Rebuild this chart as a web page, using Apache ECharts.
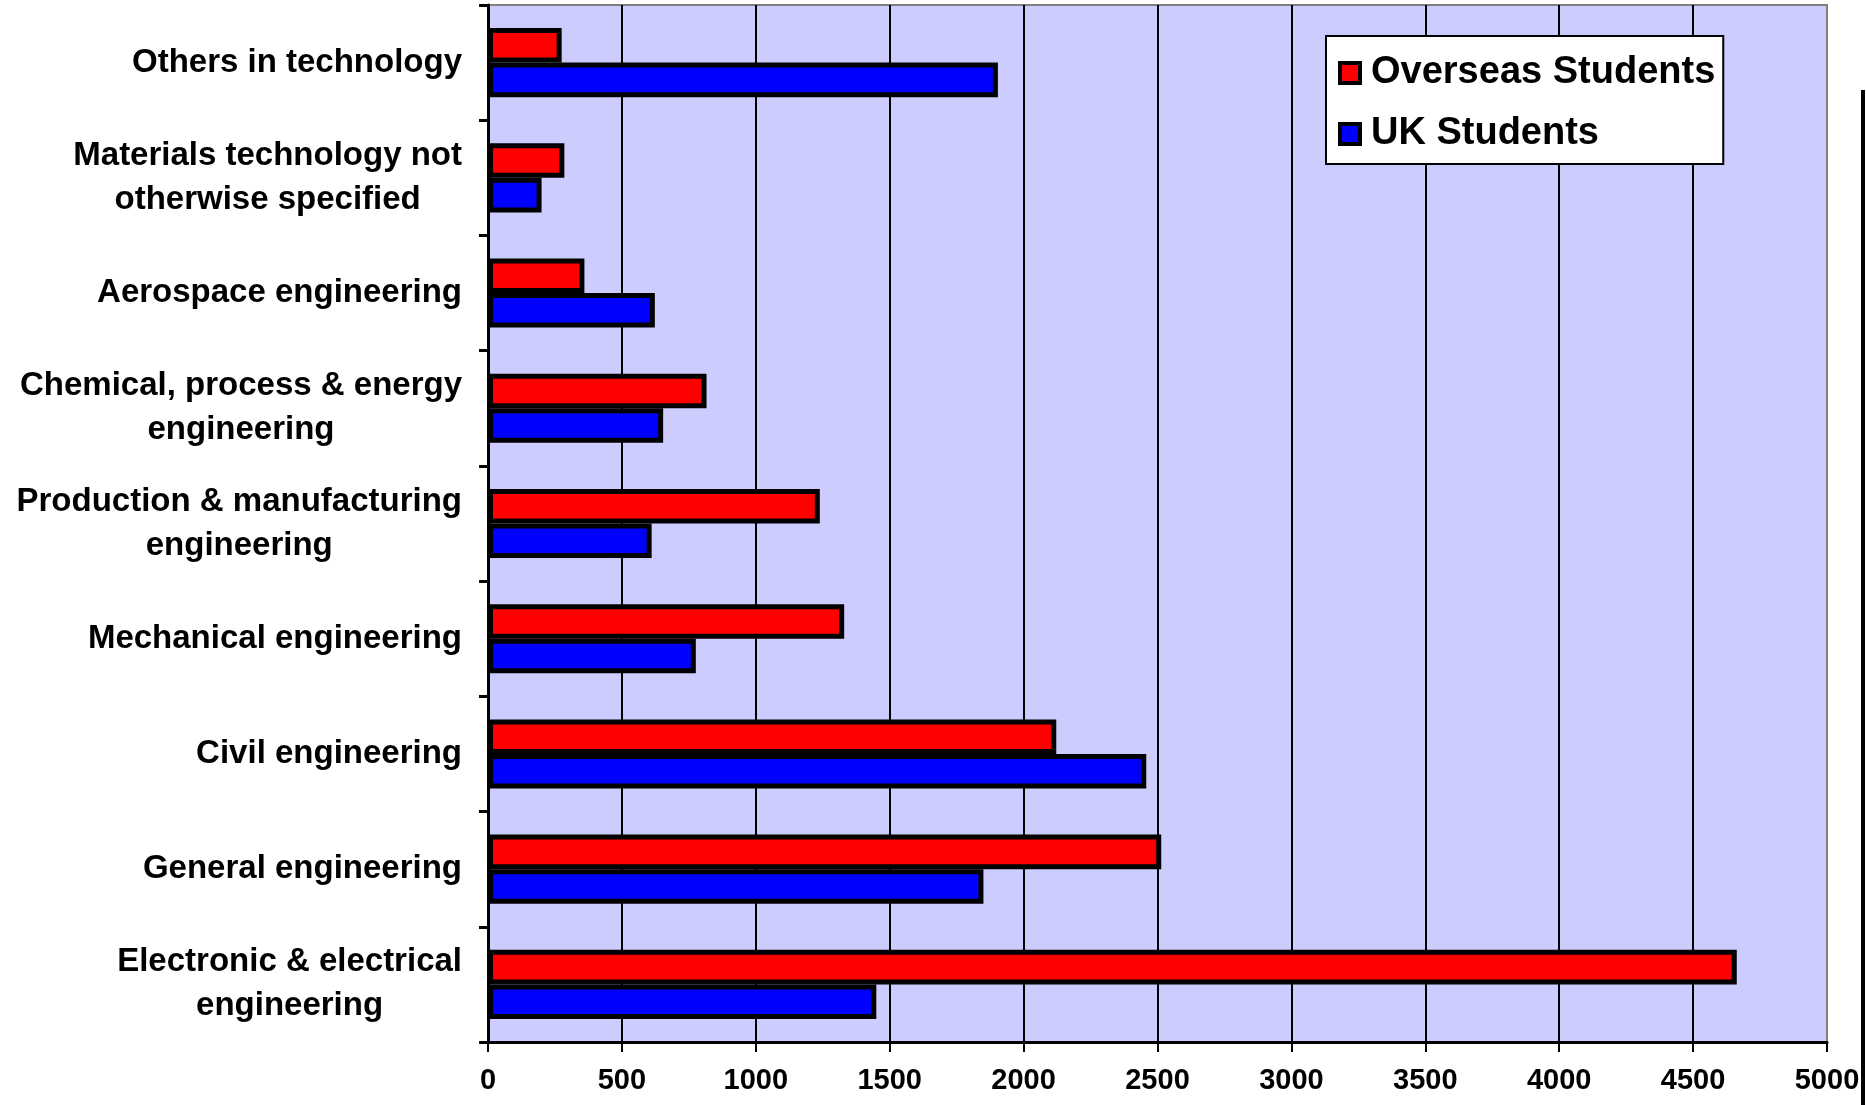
<!DOCTYPE html>
<html>
<head>
<meta charset="utf-8">
<script src="https://cdn.jsdelivr.net/npm/echarts@6/dist/echarts.min.js"></script>
<style>
  html, body { margin: 0; padding: 0; background: #ffffff; }
  #chart { width: 1866px; height: 1105px; }
</style>
</head>
<body>
<div id="chart"></div>
<script>
// categories listed top to bottom (yAxis is inverted)
var categories = [
  'Others in technology',
  'Materials technology not\notherwise specified',
  'Aerospace engineering',
  'Chemical, process & energy\nengineering',
  'Production & manufacturing\nengineering',
  'Mechanical engineering',
  'Civil engineering',
  'General engineering',
  'Electronic & electrical\nengineering'
];
var overseas = [275, 285, 360, 816, 1239, 1330, 2122, 2514, 4663];
var ukStudents = [1904, 200, 623, 654, 611, 776, 2458, 1850, 1450];
var xTicks = [0, 500, 1000, 1500, 2000, 2500, 3000, 3500, 4000, 4500, 5000];

var font = "'Liberation Sans', Arial, sans-serif";

var chart = echarts.init(document.getElementById('chart'));
chart.setOption({
  animation: false,
  backgroundColor: '#ffffff',
  grid: {
    left: 488,
    right: 39,
    top: 5,
    bottom: 63,
    show: true,
    backgroundColor: '#ccccff',
    borderColor: '#808080',
    borderWidth: 2
  },
  legend: {
    orient: 'vertical',
    left: 1326,
    top: 36,
    data: ['Overseas Students', 'UK Students'],
    icon: 'rect',
    itemWidth: 20,
    itemHeight: 20,
    itemGap: 21,
    padding: [17, 8, 10, 12],
    backgroundColor: '#ffffff',
    borderColor: '#000000',
    borderWidth: 2,
    itemStyle: { borderColor: '#000000', borderWidth: 4 },
    textStyle: {
      fontFamily: font,
      fontWeight: 'bold',
      fontSize: 38,
      lineHeight: 40,
      color: '#000000',
      padding: [0, 0, 0, 6]
    }
  },
  xAxis: {
    type: 'value',
    min: xTicks[0],
    max: xTicks[xTicks.length - 1],
    interval: xTicks[1] - xTicks[0],
    axisLine: { show: true, lineStyle: { color: '#000000', width: 3 } },
    axisTick: { show: true, length: 10, lineStyle: { color: '#000000', width: 2 } },
    axisLabel: {
      margin: 24,
      fontFamily: font,
      fontWeight: 'bold',
      fontSize: 29,
      color: '#000000',
      formatter: function (v) { return String(v); }
    },
    splitLine: {
      show: true,
      showMinLine: false,
      showMaxLine: false,
      lineStyle: { color: '#000000', width: 2 }
    }
  },
  yAxis: {
    type: 'category',
    inverse: true,
    data: categories,
    axisLine: { show: true, lineStyle: { color: '#000000', width: 3 } },
    axisTick: { show: true, length: 9, lineStyle: { color: '#000000', width: 3 } },
    axisLabel: {
      margin: 26,
      color: '#000000',
      formatter: function (v) {
        return v.split('\n').map(function (s) { return '{a|' + s + '}'; }).join('\n');
      },
      rich: {
        a: {
          fontFamily: font,
          fontWeight: 'bold',
          fontSize: 33,
          lineHeight: 44,
          align: 'center',
          color: '#000000'
        }
      }
    },
    splitLine: { show: false }
  },
  series: [
    {
      name: 'Overseas Students',
      type: 'bar',
      data: overseas,
      barGap: '0%',
      barCategoryGap: '40%',
      itemStyle: { color: '#ff0000', borderColor: '#000000', borderWidth: 5 }
    },
    {
      name: 'UK Students',
      type: 'bar',
      data: ukStudents,
      barGap: '0%',
      barCategoryGap: '40%',
      itemStyle: { color: '#0000ff', borderColor: '#000000', borderWidth: 5 }
    }
  ],
  graphic: [
    {
      type: 'line',
      shape: { x1: 1863, y1: 90, x2: 1863, y2: 1105 },
      style: { stroke: '#000000', lineWidth: 4 }
    }
  ]
});
</script>
</body>
</html>
